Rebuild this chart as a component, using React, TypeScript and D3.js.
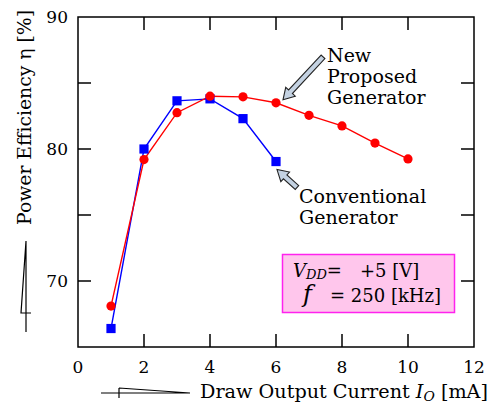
import React, { useEffect, useRef } from 'react';
import * as d3 from 'd3';

// drawn output current [mA]
const currentProposed = [1, 2, 3, 4, 5, 6, 7, 8, 9, 10];
const effProposed = [68.1, 79.2, 82.75, 84.0, 83.95, 83.5, 82.55, 81.75, 80.45, 79.25];
const currentConventional = [1, 2, 3, 4, 5, 6];
const effConventional = [66.4, 80.0, 83.65, 83.8, 82.3, 79.05];

const xTicks = [0, 2, 4, 6, 8, 10, 12];
const yMajor = [70, 80, 90];
const yTicks = [70, 75, 80, 85];

const FONT = "'DejaVu Serif', serif";

// block arrow outline from tail to tip
function blockArrow(x1: number, y1: number, x2: number, y2: number) {
  const dx = x2 - x1, dy = y2 - y1;
  const len = Math.sqrt(dx * dx + dy * dy);
  const ux = dx / len, uy = dy / len;
  const px = -uy, py = ux;
  const sw = 2.6, hw = 6.5, hl = 11;
  const bx = x2 - ux * hl, by = y2 - uy * hl;
  const pts = [
    [x1 + px * sw, y1 + py * sw],
    [bx + px * sw, by + py * sw],
    [bx + px * hw, by + py * hw],
    [x2, y2],
    [bx - px * hw, by - py * hw],
    [bx - px * sw, by - py * sw],
    [x1 - px * sw, y1 - py * sw],
  ];
  return 'M' + pts.map(p => p.join(',')).join('L') + 'Z';
}

const App = () => {
  const ref = useRef<SVGSVGElement>(null);

  useEffect(() => {
    const width = 491, height = 403;
    const margin = { top: 17, left: 78, right: 17, bottom: 56 };
    const svg = d3.select(ref.current).attr('width', width).attr('height', height);
    svg.selectAll('*').remove();

    const x = d3.scaleLinear().domain([0, 12]).range([margin.left, width - margin.right]);
    const y = d3.scaleLinear().domain([65, 90]).range([height - margin.bottom, margin.top]);
    const x0 = x(0), x1 = x(12), y0 = y(65), y1 = y(90);
    const tl = 13;

    // frame
    svg.append('rect').attr('x', x0).attr('y', y1).attr('width', x1 - x0).attr('height', y0 - y1)
      .attr('fill', 'none').attr('stroke', '#000').attr('stroke-width', 1.5);

    // x ticks (bottom + top, inward)
    const xt = xTicks.slice(1, -1);
    svg.append('g').selectAll('line').data(xt).join('line')
      .attr('x1', d => x(d)).attr('x2', d => x(d)).attr('y1', y0).attr('y2', y0 - tl)
      .attr('stroke', '#000').attr('stroke-width', 1.5);
    svg.append('g').selectAll('line').data(xt).join('line')
      .attr('x1', d => x(d)).attr('x2', d => x(d)).attr('y1', y1).attr('y2', y1 + tl)
      .attr('stroke', '#000').attr('stroke-width', 1.5);

    // y ticks (left + right, inward)
    svg.append('g').selectAll('line').data(yTicks).join('line')
      .attr('x1', x0).attr('x2', x0 + tl).attr('y1', d => y(d)).attr('y2', d => y(d))
      .attr('stroke', '#000').attr('stroke-width', 1.5);
    svg.append('g').selectAll('line').data(yTicks).join('line')
      .attr('x1', x1).attr('x2', x1 - tl).attr('y1', d => y(d)).attr('y2', d => y(d))
      .attr('stroke', '#000').attr('stroke-width', 1.5);

    // tick labels
    svg.append('g').selectAll('text').data(xTicks).join('text')
      .attr('x', d => x(d)).attr('y', y0 + 26).attr('text-anchor', 'middle')
      .attr('font-family', FONT).attr('font-size', 17).text(d => d);
    svg.append('g').selectAll('text').data(yMajor).join('text')
      .attr('x', x0 - 10).attr('y', d => y(d) + 6).attr('text-anchor', 'end')
      .attr('font-family', FONT).attr('font-size', 17).text(d => d);

    // axis titles
    const xt2 = svg.append('text').attr('x', 200).attr('y', 398)
      .attr('font-family', FONT).attr('font-size', 18)
      .attr('textLength', 288).attr('lengthAdjust', 'spacingAndGlyphs');
    xt2.append('tspan').text('Draw Output Current ');
    xt2.append('tspan').attr('font-style', 'italic').text('I');
    xt2.append('tspan').attr('font-style', 'italic').attr('font-size', 13).attr('dy', 3).text('O');
    xt2.append('tspan').attr('dy', -3).text(' [mA]');

    svg.append('text').attr('transform', 'translate(31,225) rotate(-90)')
      .attr('font-family', FONT).attr('font-size', 18)
      .attr('textLength', 215).attr('lengthAdjust', 'spacingAndGlyphs')
      .text('Power Efficiency η [%]');

    // stray glyph strokes below axis titles
    svg.append('path').attr('d', 'M26,241L26,332M26,241L21,313L31,313')
      .attr('fill', 'none').attr('stroke', '#000').attr('stroke-width', 1.2);
    svg.append('path').attr('d', 'M101,393L190,393M119,388L119,398M119,388L190,393')
      .attr('fill', 'none').attr('stroke', '#000').attr('stroke-width', 1.2);

    // series
    const line = d3.line<[number, number]>().x(d => x(d[0])).y(d => y(d[1]));
    const red = currentProposed.map((c, i) => [c, effProposed[i]] as [number, number]);
    const blue = currentConventional.map((c, i) => [c, effConventional[i]] as [number, number]);

    svg.append('path').datum(blue).attr('d', line).attr('fill', 'none').attr('stroke', '#0000ff').attr('stroke-width', 1.4);
    svg.append('path').datum(red).attr('d', line).attr('fill', 'none').attr('stroke', '#ff0000').attr('stroke-width', 1.4);
    svg.append('g').selectAll('rect').data(blue).join('rect')
      .attr('x', d => x(d[0]) - 4.6).attr('y', d => y(d[1]) - 4.6).attr('width', 9.2).attr('height', 9.2)
      .attr('fill', '#0000ff');
    svg.append('g').selectAll('circle').data(red).join('circle')
      .attr('cx', d => x(d[0])).attr('cy', d => y(d[1])).attr('r', 4.6).attr('fill', '#ff0000');

    // annotations
    const p6 = red[5], b6 = blue[5];
    svg.append('path').attr('d', blockArrow(x(p6[0]) + 47, y(p6[1]) - 46, x(p6[0]) + 7, y(p6[1]) - 3))
      .attr('fill', '#c4d2e2').attr('stroke', '#222').attr('stroke-width', 1.1);
    svg.append('path').attr('d', blockArrow(x(b6[0]) + 21, y(b6[1]) + 26, x(b6[0]) + 1, y(b6[1]) + 8))
      .attr('fill', '#c4d2e2').attr('stroke', '#222').attr('stroke-width', 1.1);

    const ann = (tx: number, ty: number, lines: string[]) => {
      svg.append('g').selectAll('text').data(lines).join('text')
        .attr('x', tx).attr('y', (d, i) => ty + i * 21)
        .attr('font-family', FONT).attr('font-size', 19).text(d => d);
    };
    ann(327, 62, ['New', 'Proposed', 'Generator']);
    ann(299, 203, ['Conventional', 'Generator']);

    // condition box
    svg.append('rect').attr('x', 282.5).attr('y', 254.5).attr('width', 172).attr('height', 58)
      .attr('fill', '#ffc6ec').attr('stroke', '#ff22ee').attr('stroke-width', 1.5);
    const l1 = svg.append('text').attr('x', 293).attr('y', 277).attr('font-family', FONT).attr('font-size', 18);
    l1.append('tspan').attr('font-style', 'italic').text('V');
    l1.append('tspan').attr('font-style', 'italic').attr('font-size', 13).attr('dy', 2).text('DD');
    l1.append('tspan').attr('dy', -2).text('=');
    l1.append('tspan').attr('x', 360).text('+5 [V]');
    const l2 = svg.append('text').attr('x', 303).attr('y', 302).attr('font-family', FONT).attr('font-size', 18);
    l2.append('tspan').attr('font-style', 'italic').attr('font-size', 24).text('f');
    l2.append('tspan').attr('x', 330).text('= 250 [kHz]');
  }, []);

  return (
    <div style={{ position: 'absolute', left: 0, top: 0 }}>
      <svg ref={ref}></svg>
    </div>
  );
};

export default App;
